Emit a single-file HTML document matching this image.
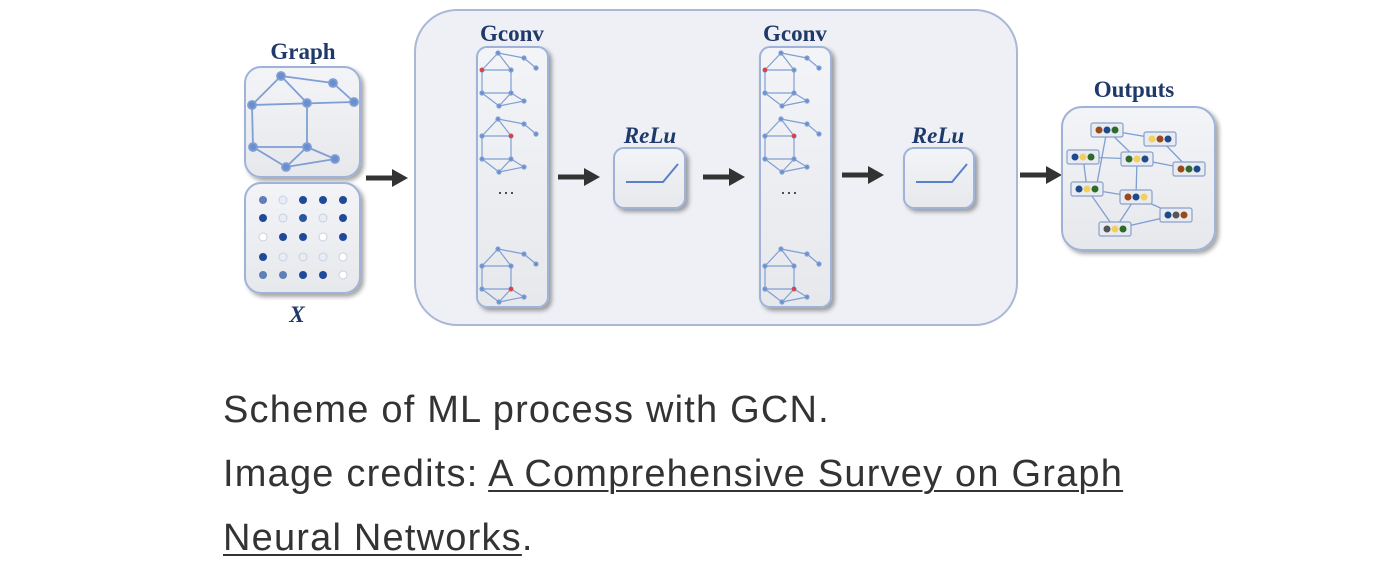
<!DOCTYPE html>
<html><head><meta charset="utf-8"><style>
body{margin:0;background:#fff;width:1390px;height:566px;overflow:hidden;position:relative;font-family:"Liberation Sans",sans-serif}
.cap{position:absolute;left:223px;font-size:38px;letter-spacing:1.2px;color:#333;line-height:64px;white-space:nowrap}
.cap a{color:#333;text-decoration:underline;text-decoration-thickness:2px;text-underline-offset:4px}
</style></head><body>
<svg width="1390" height="340" style="position:absolute;left:0;top:0" xmlns="http://www.w3.org/2000/svg">
<defs>
<filter id="sh" x="-10%" y="-10%" width="130%" height="130%"><feDropShadow dx="3" dy="3" stdDeviation="2" flood-color="#000" flood-opacity="0.35"/></filter>
<linearGradient id="bg" x1="0" y1="0" x2="0" y2="1"><stop offset="0" stop-color="#f3f4f7"/><stop offset="1" stop-color="#e6e8ec"/></linearGradient>
<g id="mg" stroke="#7f9fd4" stroke-width="1.2" fill="#6a8fcf">
<line x1="21" y1="6" x2="47" y2="11"/><line x1="47" y1="11" x2="59" y2="21"/><line x1="21" y1="6" x2="5" y2="23"/><line x1="21" y1="6" x2="34" y2="23"/><line x1="5" y1="23" x2="34" y2="23"/><line x1="5" y1="23" x2="5" y2="46"/><line x1="34" y1="23" x2="34" y2="46"/><line x1="5" y1="46" x2="34" y2="46"/><line x1="5" y1="46" x2="22" y2="59"/><line x1="34" y1="46" x2="22" y2="59"/><line x1="34" y1="46" x2="47" y2="54"/><line x1="22" y1="59" x2="47" y2="54"/>
<circle cx="21" cy="6" r="2"/><circle cx="47" cy="11" r="2"/><circle cx="59" cy="21" r="2"/><circle cx="5" cy="23" r="2"/><circle cx="34" cy="23" r="2"/><circle cx="5" cy="46" r="2"/><circle cx="34" cy="46" r="2"/><circle cx="22" cy="59" r="2"/><circle cx="47" cy="54" r="2"/>
</g>
<g id="arr"><line x1="0" y1="0" x2="30" y2="0" stroke="#333" stroke-width="5"/><path d="M26 -9 L42 0 L26 9 Z" fill="#333"/></g>
</defs>
<rect x="415" y="10" width="602" height="315" rx="42" fill="#eef0f5" stroke="#aab8d6" stroke-width="2"/>
<g font-family="Liberation Serif,serif" font-weight="bold" fill="#1f3a6a" text-anchor="middle">
<text x="303" y="59" font-size="23">Graph</text>
<text x="297" y="322" font-size="23" font-style="italic">X</text>
<text x="512" y="41" font-size="23">Gconv</text>
<text x="795" y="41" font-size="23">Gconv</text>
<text x="650" y="143" font-size="23" font-style="italic">ReLu</text>
<text x="938" y="143" font-size="23" font-style="italic">ReLu</text>
<text x="1134" y="97" font-size="23">Outputs</text>
</g>
<rect x="245" y="67" width="115" height="110" rx="16" fill="url(#bg)" stroke="#9fb3d8" stroke-width="2" filter="url(#sh)"/>
<g stroke="#7f9fd4" stroke-width="1.8" fill="#6a8fcf">
<line x1="281" y1="76" x2="333" y2="83"/><line x1="333" y1="83" x2="354" y2="102"/><line x1="281" y1="76" x2="252" y2="105"/><line x1="281" y1="76" x2="307" y2="103"/><line x1="252" y1="105" x2="354" y2="102"/><line x1="252" y1="105" x2="253" y2="147"/><line x1="307" y1="103" x2="307" y2="147"/><line x1="253" y1="147" x2="307" y2="147"/><line x1="253" y1="147" x2="286" y2="167"/><line x1="307" y1="147" x2="286" y2="167"/><line x1="307" y1="147" x2="335" y2="159"/><line x1="286" y1="167" x2="335" y2="159"/>
<circle cx="281" cy="76" r="4"/><circle cx="333" cy="83" r="4"/><circle cx="354" cy="102" r="4"/><circle cx="252" cy="105" r="4"/><circle cx="307" cy="103" r="4"/><circle cx="253" cy="147" r="4"/><circle cx="307" cy="147" r="4"/><circle cx="286" cy="167" r="4"/><circle cx="335" cy="159" r="4"/>
</g>
<rect x="245" y="183" width="115" height="110" rx="16" fill="url(#bg)" stroke="#9fb3d8" stroke-width="2" filter="url(#sh)"/>
<g>
<circle cx="263" cy="200" r="4" fill="#5f7fb8"/><circle cx="283" cy="200" r="4" fill="#e8ecf4" stroke="#c8d0e0"/><circle cx="303" cy="200" r="4" fill="#1f4a9a"/><circle cx="323" cy="200" r="4" fill="#1f4a9a"/><circle cx="343" cy="200" r="4" fill="#1f4a9a"/>
<circle cx="263" cy="218" r="4" fill="#1f4a9a"/><circle cx="283" cy="218" r="4" fill="#e8ecf4" stroke="#c8d0e0"/><circle cx="303" cy="218" r="4" fill="#2a55a0"/><circle cx="323" cy="218" r="4" fill="#e8ecf4" stroke="#c8d0e0"/><circle cx="343" cy="218" r="4" fill="#1f4a9a"/>
<circle cx="263" cy="237" r="4" fill="#fff" stroke="#c8d0e0"/><circle cx="283" cy="237" r="4" fill="#1f4a9a"/><circle cx="303" cy="237" r="4" fill="#1f4a9a"/><circle cx="323" cy="237" r="4" fill="#fff" stroke="#c8d0e0"/><circle cx="343" cy="237" r="4" fill="#1f4a9a"/>
<circle cx="263" cy="257" r="4" fill="#1f4a9a"/><circle cx="283" cy="257" r="4" fill="#e8ecf4" stroke="#c8d0e0"/><circle cx="303" cy="257" r="4" fill="#e8ecf4" stroke="#c8d0e0"/><circle cx="323" cy="257" r="4" fill="#e8ecf4" stroke="#c8d0e0"/><circle cx="343" cy="257" r="4" fill="#fff" stroke="#c8d0e0"/>
<circle cx="263" cy="275" r="4" fill="#5f7fb8"/><circle cx="283" cy="275" r="4" fill="#5f7fb8"/><circle cx="303" cy="275" r="4" fill="#1f4a9a"/><circle cx="323" cy="275" r="4" fill="#1f4a9a"/><circle cx="343" cy="275" r="4" fill="#fff" stroke="#c8d0e0"/>
</g>
<use href="#arr" x="366" y="178"/><use href="#arr" x="558" y="177"/><use href="#arr" x="703" y="177"/><use href="#arr" x="842" y="175"/><use href="#arr" x="1020" y="175"/>
<g>
<rect x="477" y="47" width="71" height="260" rx="10" fill="url(#bg)" stroke="#9fb3d8" stroke-width="2" filter="url(#sh)"/>
<use href="#mg" x="477" y="47"/><use href="#mg" x="477" y="113"/><use href="#mg" x="477" y="243"/>
<circle cx="482" cy="70" r="2.2" fill="#e04040"/><circle cx="511" cy="136" r="2.2" fill="#e04040"/><circle cx="511" cy="289" r="2.2" fill="#e04040"/>
<text x="506" y="198" font-size="18" fill="#333" text-anchor="middle" font-family="Liberation Sans">···</text>
</g>
<g>
<rect x="760" y="47" width="71" height="260" rx="10" fill="url(#bg)" stroke="#9fb3d8" stroke-width="2" filter="url(#sh)"/>
<use href="#mg" x="760" y="47"/><use href="#mg" x="760" y="113"/><use href="#mg" x="760" y="243"/>
<circle cx="765" cy="70" r="2.2" fill="#e04040"/><circle cx="794" cy="136" r="2.2" fill="#e04040"/><circle cx="794" cy="289" r="2.2" fill="#e04040"/>
<text x="789" y="198" font-size="18" fill="#333" text-anchor="middle" font-family="Liberation Sans">···</text>
</g>
<rect x="614" y="148" width="71" height="60" rx="10" fill="url(#bg)" stroke="#9fb3d8" stroke-width="2" filter="url(#sh)"/>
<polyline points="626,182 663,182 678,164" fill="none" stroke="#5a80cc" stroke-width="2"/>
<rect x="904" y="148" width="70" height="60" rx="10" fill="url(#bg)" stroke="#9fb3d8" stroke-width="2" filter="url(#sh)"/>
<polyline points="916,182 952,182 967,164" fill="none" stroke="#5a80cc" stroke-width="2"/>
<rect x="1062" y="107" width="153" height="143" rx="20" fill="url(#bg)" stroke="#9fb3d8" stroke-width="2" filter="url(#sh)"/>
<g stroke="#7f9fd4" stroke-width="1.3">
<line x1="1107" y1="130" x2="1160" y2="139"/><line x1="1107" y1="130" x2="1137" y2="159"/><line x1="1107" y1="130" x2="1096" y2="189"/><line x1="1083" y1="157" x2="1137" y2="159"/><line x1="1083" y1="157" x2="1087" y2="189"/><line x1="1160" y1="139" x2="1189" y2="169"/><line x1="1137" y1="159" x2="1189" y2="169"/><line x1="1137" y1="159" x2="1136" y2="197"/><line x1="1087" y1="189" x2="1136" y2="197"/><line x1="1087" y1="189" x2="1115" y2="229"/><line x1="1136" y1="197" x2="1176" y2="215"/><line x1="1136" y1="197" x2="1115" y2="229"/><line x1="1176" y1="215" x2="1115" y2="229"/>
</g>
<g stroke="#8aa0c8" stroke-width="1.2" fill="#e8ebf2">
<rect x="1091" y="123" width="32" height="14" rx="2"/><rect x="1144" y="132" width="32" height="14" rx="2"/><rect x="1067" y="150" width="32" height="14" rx="2"/><rect x="1121" y="152" width="32" height="14" rx="2"/><rect x="1173" y="162" width="32" height="14" rx="2"/><rect x="1071" y="182" width="32" height="14" rx="2"/><rect x="1120" y="190" width="32" height="14" rx="2"/><rect x="1160" y="208" width="32" height="14" rx="2"/><rect x="1099" y="222" width="32" height="14" rx="2"/>
</g>
<g>
<circle cx="1099" cy="130" r="3.5" fill="#9a4a1a"/><circle cx="1107" cy="130" r="3.5" fill="#1f4a8a"/><circle cx="1115" cy="130" r="3.5" fill="#2e6a2a"/>
<circle cx="1152" cy="139" r="3.5" fill="#f2d060"/><circle cx="1160" cy="139" r="3.5" fill="#9a4a1a"/><circle cx="1168" cy="139" r="3.5" fill="#1f4a8a"/>
<circle cx="1075" cy="157" r="3.5" fill="#1f4a8a"/><circle cx="1083" cy="157" r="3.5" fill="#f2d060"/><circle cx="1091" cy="157" r="3.5" fill="#2e6a2a"/>
<circle cx="1129" cy="159" r="3.5" fill="#2e6a2a"/><circle cx="1137" cy="159" r="3.5" fill="#f2d060"/><circle cx="1145" cy="159" r="3.5" fill="#1f4a8a"/>
<circle cx="1181" cy="169" r="3.5" fill="#9a4a1a"/><circle cx="1189" cy="169" r="3.5" fill="#2e6a2a"/><circle cx="1197" cy="169" r="3.5" fill="#1f4a8a"/>
<circle cx="1079" cy="189" r="3.5" fill="#1f4a8a"/><circle cx="1087" cy="189" r="3.5" fill="#f2d060"/><circle cx="1095" cy="189" r="3.5" fill="#2e6a2a"/>
<circle cx="1128" cy="197" r="3.5" fill="#9a4a1a"/><circle cx="1136" cy="197" r="3.5" fill="#1f4a8a"/><circle cx="1144" cy="197" r="3.5" fill="#f2d060"/>
<circle cx="1168" cy="215" r="3.5" fill="#1f4a8a"/><circle cx="1176" cy="215" r="3.5" fill="#555"/><circle cx="1184" cy="215" r="3.5" fill="#9a4a1a"/>
<circle cx="1107" cy="229" r="3.5" fill="#555"/><circle cx="1115" cy="229" r="3.5" fill="#f2d060"/><circle cx="1123" cy="229" r="3.5" fill="#2e6a2a"/>
</g>
</svg>
<div class="cap" style="top:378px">Scheme of ML process with GCN.</div>
<div class="cap" style="top:442px">Image credits: <a>A Comprehensive Survey on Graph</a></div>
<div class="cap" style="top:506px"><a>Neural Networks</a>.</div>
</body></html>
